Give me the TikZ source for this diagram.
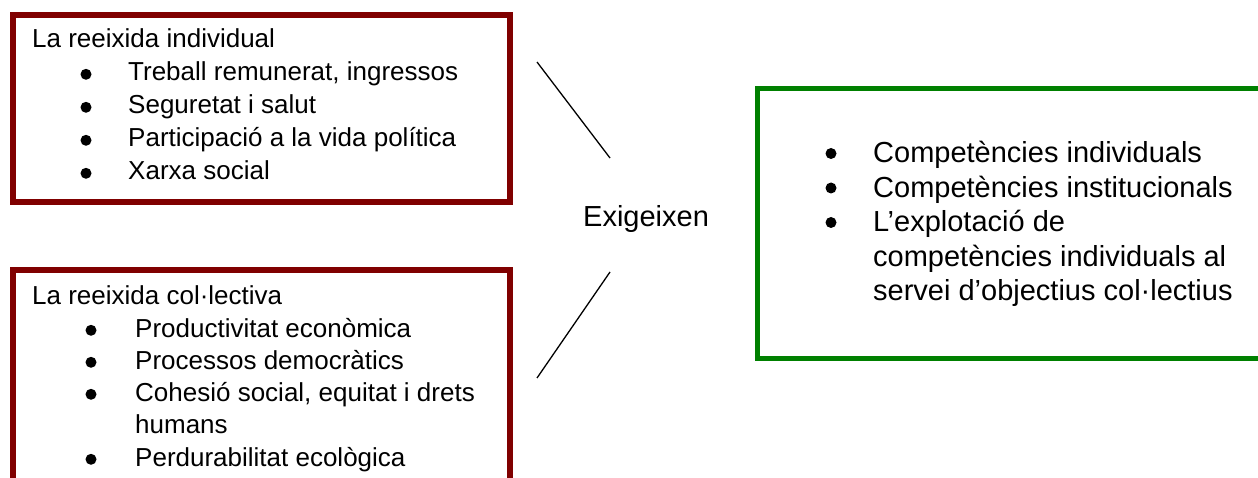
\documentclass[tikz,border=0pt]{standalone}
\usepackage{fontspec}
\setmainfont{Liberation Sans}
\definecolor{boxred}{RGB}{128,0,0}
\definecolor{boxgreen}{RGB}{0,128,0}
\tikzset{
  frame/.style={draw, line width=#1, rectangle, inner sep=0pt, anchor=north west},
  smalltxt/.style={anchor=base west, inner sep=0pt, font=\fontsize{26}{30}\selectfont},
  bigtxt/.style={anchor=base west, inner sep=0pt, font=\fontsize{29}{34}\selectfont},
  smallbul/.style={circle, fill=black, inner sep=0pt, minimum size=11pt, yshift=6.7pt},
  bigbul/.style={circle, fill=black, inner sep=0pt, minimum size=11pt, yshift=9.5pt},
  link/.style={draw=black, line width=1.3pt}
}
\begin{document}
\begin{tikzpicture}[x=1pt,y=-1pt]
\useasboundingbox (0,0) rectangle (1258,478);
\clip (0,0) rectangle (1258,478);
\fill[white] (0,0) rectangle (1258,478);

% frames
\node[frame=6pt, draw=boxred, minimum width=497pt, minimum height=187pt] (indiv) at (10,12) {};
\node[frame=6pt, draw=boxred, minimum width=497pt, minimum height=260pt] (colect) at (10,267) {};
\node[frame=5pt, draw=boxgreen, minimum width=1001pt, minimum height=269.5pt] (comp) at (754.5,86.5) {};

% individual success
\node[smalltxt] (i0) at (32,48) {La reeixida individual};
\node[smallbul] (ib1) at (86,81) {};
\node[smalltxt] (i1) at (128,81) {Treball remunerat, ingressos};
\node[smallbul] (ib2) at (86,114) {};
\node[smalltxt] (i2) at (128,114) {Seguretat i salut};
\node[smallbul] (ib3) at (86,147) {};
\node[smalltxt] (i3) at (128,147) {Participació a la vida política};
\node[smallbul] (ib4) at (86,180) {};
\node[smalltxt] (i4) at (128,180) {Xarxa social};

% collective success
\node[smalltxt] (c0) at (32,305) {La reeixida col·lectiva};
\node[smallbul] (cb1) at (91,337) {};
\node[smalltxt] (c1) at (135,337) {Productivitat econòmica};
\node[smallbul] (cb2) at (91,369) {};
\node[smalltxt] (c2) at (135,369) {Processos democràtics};
\node[smallbul] (cb3) at (91,401) {};
\node[smalltxt] (c3) at (135,401) {Cohesió social, equitat i drets};
\node[smalltxt] (c3b) at (135,433) {humans};
\node[smallbul] (cb4) at (91,466) {};
\node[smalltxt] (c4) at (135,466) {Perdurabilitat ecològica};

% central label and links
\node[bigtxt] (req) at (583,227) {Exigeixen};
\coordinate (u1) at (537,62);
\coordinate (u2) at (610,158);
\coordinate (l1) at (610,272);
\coordinate (l2) at (537,378);
\draw[link] (u1) -- (u2);
\draw[link] (l1) -- (l2);

% competences
\node[bigbul] (kb1) at (831,163) {};
\node[bigtxt] (k1) at (873,163) {Competències individuals};
\node[bigbul] (kb2) at (831,197.5) {};
\node[bigtxt] (k2) at (873,197.5) {Competències institucionals};
\node[bigbul] (kb3) at (831,232) {};
\node[bigtxt] (k3) at (873,232) {L’explotació de};
\node[bigtxt] (k3b) at (873,266.5) {competències individuals al};
\node[bigtxt] (k3c) at (873,301) {servei d’objectius col·lectius};
\end{tikzpicture}
\end{document}
